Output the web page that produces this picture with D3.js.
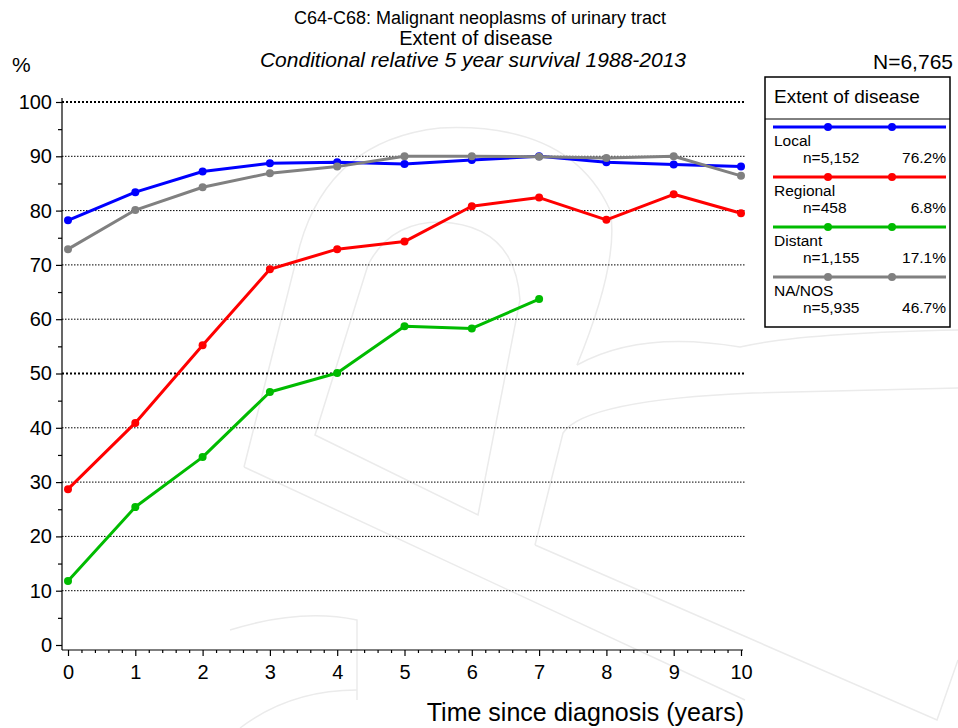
<!DOCTYPE html>
<html><head><meta charset="utf-8">
<script src="https://cdn.jsdelivr.net/npm/d3@7"></script>
<style>
body{margin:0;background:#fff;}
svg{display:block;font-family:"Liberation Sans",Arial,sans-serif;}
</style></head>
<body><svg id="c" width="958" height="728"></svg>
<script>
const years = [0,1,2,3,4,5,6,7,8,9,10];
const local = [78.2,83.4,87.2,88.7,88.9,88.6,89.3,90.0,88.9,88.5,88.1];
const regional = [28.7,40.9,55.2,69.2,72.9,74.3,80.8,82.4,78.3,83.0,79.5];
const distant = [11.8,25.4,34.6,46.6,50.1,58.7,58.3,63.7];
const naNos = [72.9,80.1,84.3,86.9,88.1,90.0,90.0,89.9,89.7,90.0,86.4];
const seriesNames = ["Local","Regional","Distant","NA/NOS"];
const seriesN = ["n=5,152","n=458","n=1,155","n=5,935"];
const seriesPct = ["76.2%","6.8%","17.1%","46.7%"];
const colors = ["#0000ff","#ff0000","#00bb00","#808080"];
const yTicks = [0,10,20,30,40,50,60,70,80,90,100];
const xTicks = [0,1,2,3,4,5,6,7,8,9,10];

const svg = d3.select("#c");
const x = d3.scaleLinear().domain([0,10]).range([68,741]);
const y = d3.scaleLinear().domain([0,100]).range([645,102]);

// watermark
const wm = svg.append("g").attr("fill","none").attr("stroke","#ebebeb").attr("stroke-width",1.5);
["M244,467 L300,245 Q330,140 440,128 Q570,122 610,210 Q620,260 577,365",
 "M315,435 L368,265 Q390,222 440,222 Q515,225 520,300 L478,515 Z",
 "M244,467 L745,700",
 "M535,545 L563,433 Q585,400 753,393 L958,388",
 "M577,365 Q640,330 740,347 Q800,333 958,330",
 "M535,545 L937,720 L958,660",
 "M230,630 Q300,608 357,620 L357,700",
 "M240,728 Q290,690 357,690"].forEach(d=>wm.append("path").attr("d",d));

// grid
svg.append("g").selectAll("line").data(yTicks.filter(d=>d>0)).join("line")
  .attr("x1",62).attr("x2",745).attr("y1",d=>y(d)).attr("y2",d=>y(d))
  .attr("stroke","#000").attr("stroke-width",d=>(d%50===0)?2:1)
  .attr("stroke-dasharray",d=>(d%50===0)?"2,2":"1.5,1.5");

// y axis
const yAxis = d3.axisLeft(y).tickValues(yTicks).tickSize(6).tickPadding(4).tickFormat(d3.format("d"));
const yg = svg.append("g").attr("transform","translate(62,0)").call(yAxis);
yg.select(".domain").attr("d","M0,98V650");
yg.selectAll(".tick text").attr("font-size",20).attr("font-family","Liberation Sans, Arial");
const yMinor = d3.axisLeft(y).tickValues(d3.range(5,100,10)).tickSize(4).tickFormat("");
const ym = svg.append("g").attr("transform","translate(62,0)").call(yMinor);
ym.select(".domain").remove();

// x axis
const xAxis = d3.axisBottom(x).tickValues(xTicks).tickSize(6).tickPadding(9).tickFormat(d3.format("d"));
const xg = svg.append("g").attr("transform","translate(0,650)").call(xAxis);
xg.select(".domain").attr("d","M62,0H743");
xg.selectAll(".tick text").attr("font-size",20).attr("font-family","Liberation Sans, Arial");
const xMinor = d3.axisBottom(x).tickValues(d3.range(0,10.001,0.2).filter(v=>Math.abs(v-Math.round(v))>1e-6)).tickSize(3).tickFormat("");
const xm = svg.append("g").attr("transform","translate(0,650)").call(xMinor);
xm.select(".domain").remove();
svg.selectAll(".domain, .tick line").attr("stroke","#000").attr("stroke-width",1.2);

// series
const allSeries = [local, regional, distant, naNos];
const line = d3.line().x((d,i)=>x(years[i])).y(d=>y(d));
allSeries.forEach((s,k)=>{
  const g = svg.append("g");
  g.append("path").datum(s).attr("d",line).attr("fill","none").attr("stroke",colors[k]).attr("stroke-width",3).attr("stroke-linejoin","round");
  g.selectAll("circle").data(s).join("circle").attr("cx",(d,i)=>x(years[i])).attr("cy",d=>y(d)).attr("r",4).attr("fill",colors[k]);
});

// titles
svg.append("text").attr("x",480).attr("y",24).attr("text-anchor","middle").attr("font-size",18).text("C64-C68: Malignant neoplasms of urinary tract");
svg.append("text").attr("x",476).attr("y",45).attr("text-anchor","middle").attr("font-size",20).text("Extent of disease");
svg.append("text").attr("x",473).attr("y",67).attr("text-anchor","middle").attr("font-size",21).attr("font-style","italic").text("Conditional relative 5 year survival 1988-2013");
svg.append("text").attr("x",12).attr("y",72).attr("font-size",21).text("%");
svg.append("text").attr("x",953).attr("y",69).attr("text-anchor","end").attr("font-size",21).text("N=6,765");
svg.append("text").attr("x",744).attr("y",721).attr("text-anchor","end").attr("font-size",25).text("Time since diagnosis (years)");

// legend
const lg = svg.append("g");
lg.append("rect").attr("x",765).attr("y",77).attr("width",185).attr("height",250).attr("fill","#fff").attr("stroke","#000").attr("stroke-width",1.5);
lg.append("line").attr("x1",765).attr("x2",950).attr("y1",119).attr("y2",119).attr("stroke","#000").attr("stroke-width",1);
lg.append("text").attr("x",774).attr("y",103).attr("font-size",19).text("Extent of disease");
seriesNames.forEach((nm,k)=>{
  const y0 = 127 + k*50;
  lg.append("line").attr("x1",773).attr("x2",946).attr("y1",y0).attr("y2",y0).attr("stroke",colors[k]).attr("stroke-width",3);
  [828,892].forEach(cx=>lg.append("circle").attr("cx",cx).attr("cy",y0).attr("r",4).attr("fill",colors[k]));
  lg.append("text").attr("x",774).attr("y",y0+19).attr("font-size",15.5).text(nm);
  lg.append("text").attr("x",803).attr("y",y0+36).attr("font-size",15.5).text(seriesN[k]);
  lg.append("text").attr("x",946).attr("y",y0+36).attr("text-anchor","end").attr("font-size",15.5).text(seriesPct[k]);
});
</script></body></html>
